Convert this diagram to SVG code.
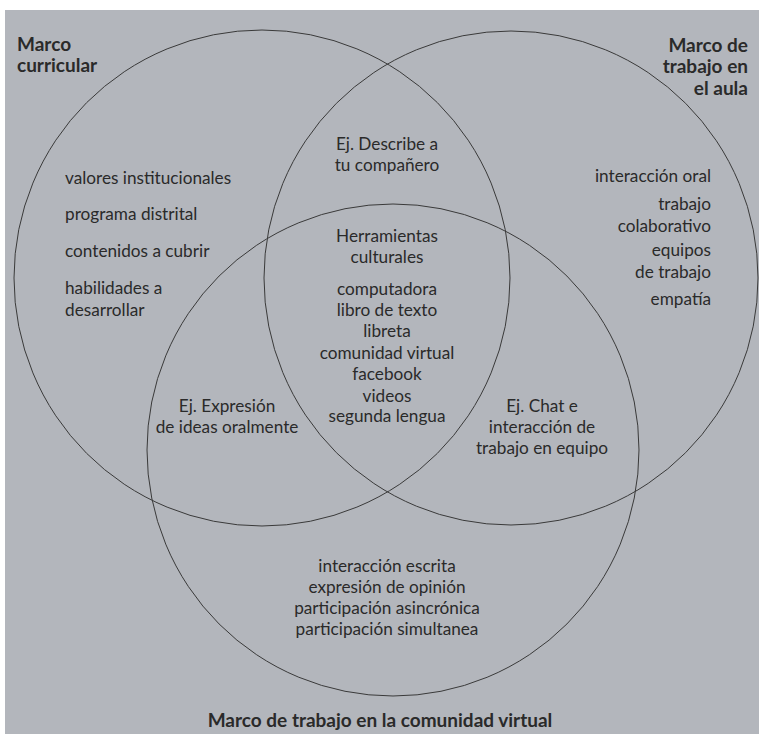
<svg xmlns="http://www.w3.org/2000/svg" width="759" height="737" viewBox="0 0 759 737">
<style>
.c{fill:none;stroke:#3a3a3a;stroke-width:1}
.t{font-family:Lato,"Open Sans","Liberation Sans",sans-serif;font-size:17.2px;fill:#2a2a2a}
.m{text-anchor:middle}
.e{text-anchor:end}
.b{font-family:Lato,"Open Sans","Liberation Sans",sans-serif;font-size:19px;font-weight:bold;fill:#2a2a2a}
</style>
<rect x="0" y="0" width="759" height="737" fill="#ffffff"/>
<rect x="5" y="10" width="754" height="724" fill="#b3b6bc"/>
<g id="connectors"></g>
<g id="circle-curricular">
<circle class="c" cx="262" cy="278" r="248"/>
<text class="b" x="17" y="51">Marco</text>
<text class="b" x="17" y="72">curricular</text>
<text class="t" x="65" y="184">valores institucionales</text>
<text class="t" x="65" y="220">programa distrital</text>
<text class="t" x="65" y="257">contenidos a cubrir</text>
<text class="t" x="65" y="294">habilidades a</text>
<text class="t" x="65" y="316">desarrollar</text>
</g>
<g id="circle-aula">
<circle class="c" cx="511" cy="278" r="247"/>
<text class="b e" x="748" y="52">Marco de</text>
<text class="b e" x="748" y="73">trabajo en</text>
<text class="b e" x="748" y="95">el aula</text>
<text class="t e" x="711" y="182">interacción oral</text>
<text class="t e" x="711" y="210">trabajo</text>
<text class="t e" x="711" y="232">colaborativo</text>
<text class="t e" x="711" y="256">equipos</text>
<text class="t e" x="711" y="278">de trabajo</text>
<text class="t e" x="711" y="305">empatía</text>
</g>
<g id="circle-virtual">
<circle class="c" cx="393" cy="450" r="246"/>
<text class="b m" x="380" y="727">Marco de trabajo en la comunidad virtual</text>
<text class="t m" x="387" y="572">interacción escrita</text>
<text class="t m" x="387" y="593">expresión de opinión</text>
<text class="t m" x="387" y="614">participación asincrónica</text>
<text class="t m" x="387" y="635">participación simultanea</text>
</g>
<g id="overlap-curricular-aula">
<text class="t m" x="387" y="150">Ej. Describe a</text>
<text class="t m" x="387" y="171">tu compañero</text>
</g>
<g id="overlap-curricular-virtual">
<text class="t m" x="227" y="412">Ej. Expresión</text>
<text class="t m" x="227" y="433">de ideas oralmente</text>
</g>
<g id="overlap-aula-virtual">
<text class="t m" x="542" y="412">Ej. Chat e</text>
<text class="t m" x="542" y="433">interacción de</text>
<text class="t m" x="542" y="454">trabajo en equipo</text>
</g>
<g id="center">
<text class="t m" x="387" y="242">Herramientas</text>
<text class="t m" x="387" y="263">culturales</text>
<text class="t m" x="387" y="295">computadora</text>
<text class="t m" x="387" y="316">libro de texto</text>
<text class="t m" x="387" y="337">libreta</text>
<text class="t m" x="387" y="359">comunidad virtual</text>
<text class="t m" x="387" y="380">facebook</text>
<text class="t m" x="387" y="402">videos</text>
<text class="t m" x="387" y="422">segunda lengua</text>
</g>
</svg>
